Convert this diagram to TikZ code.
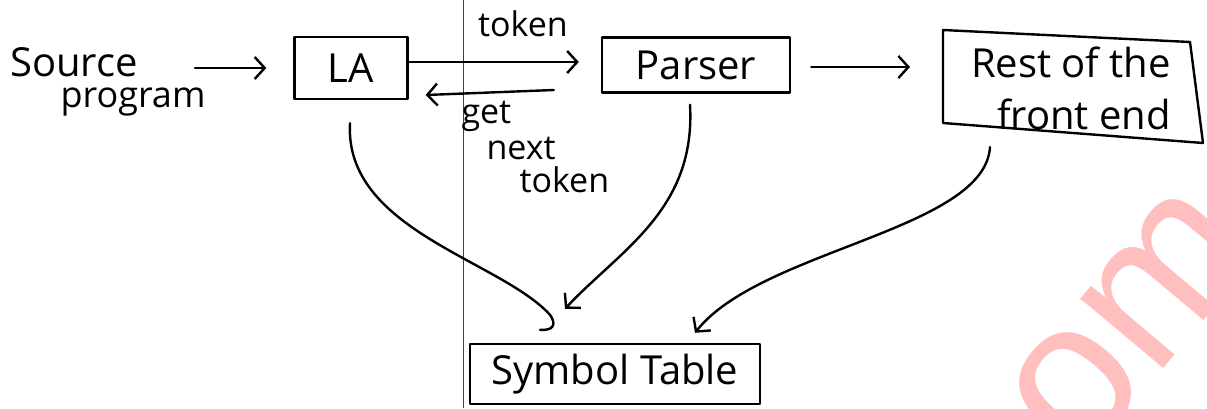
\documentclass[tikz,border=0pt]{standalone}
\usepackage{fontspec}
\setmainfont{Open Sans}
\newfontfamily\markfont{Liberation Sans}
\usetikzlibrary{arrows.meta,calc}
\begin{document}
\begin{tikzpicture}[x=1pt,y=-1pt,
  ink/.style={line width=2.4pt,line cap=round,line join=round},
  boxed/.style={draw,ink,rectangle,inner sep=0pt},
  big/.style={font=\fontsize{40}{52}\selectfont},
  small/.style={font=\fontsize{34}{40}\selectfont},
  flow/.style={ink,-{Straight Barb[length=10pt,width=22pt]}},
  hook/.style={ink}
]
\useasboundingbox (0,0) rectangle (1207,408);

% fold of the scanned page
\draw[black!75,line width=0.9pt] (463,0) -- (463,408);

% watermark
\node[text=red!25,rotate=50,font=\fontsize{205}{205}\selectfont\markfont] (wm) at (1098,362) {com};

% input
\node[big,anchor=center] (src) at (74,62) {Source};
\node[font=\fontsize{36}{40}\selectfont,anchor=center] (prog) at (133,102) {program};
\coordinate (srcout) at (195,68);

% boxes
\node[boxed,big,minimum width=113pt,minimum height=62pt] (la) at (351,68) {LA};
\node[boxed,big,minimum width=188pt,minimum height=55pt] (parser) at (696,65) {Parser};
\node[big,align=right,inner sep=0pt] (rest) at (1071,88) {Rest of the\\front end};
\draw[ink] ($(rest.center)+(-128,-58)$) -- ($(rest.center)+(119,-46)$)
  -- ($(rest.center)+(132,55)$) -- ($(rest.center)+(-128,35)$) -- cycle;
\node[boxed,big,minimum width=290pt,minimum height=60pt] (sym) at (615,374) {Symbol Table};

% horizontal flow
\draw[flow] (srcout) -- ($(la.west)+(-27,0)$);
\draw[flow] ($(la.east)+(0,-6)$) -- ($(parser.west)+(-22,-3)$);
\node[small] (tok) at (523,24) {token};
\draw[flow] ($(parser.west)+(-47,25)$) -- ($(la.east)+(17,27)$);
\node[small,anchor=west] (get) at (458,116) {get};
\node[small,anchor=west] (nxt) at (483,148) {next};
\node[small,anchor=west] (tok2) at (516,180) {token};
\draw[flow] ($(parser.east)+(20,2)$) -- ($(rest.center)+(-161,-21)$);

% links to the symbol table
\draw[hook] ($(la.south)+(-1,23)$) .. controls (344,230) and (500,260) .. ($(sym.north)+(-65,-28)$)
  .. controls ($(sym.north)+(-58,-18)$) and ($(sym.north)+(-62,-12)$) .. ($(sym.north)+(-75,-13)$);
\draw[flow] ($(parser.south)+(-6,11)$) .. controls (696,210) and (620,250) .. ($(sym.north)+(-50,-34)$);
\draw[flow] ($(rest.center)+(-81,59)$) .. controls (985,230) and (760,250) .. ($(sym.north)+(80,-10)$);
\end{tikzpicture}
\end{document}
